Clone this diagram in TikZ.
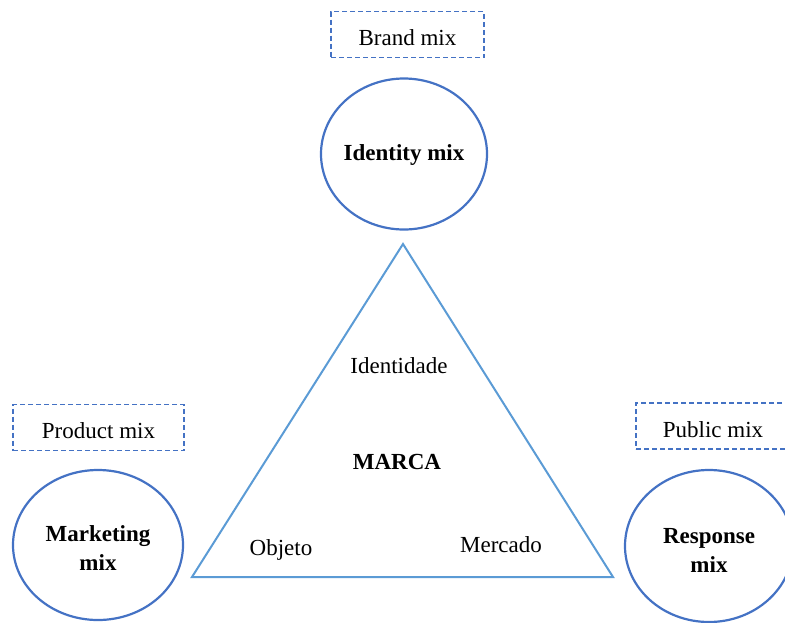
\documentclass[tikz,border=0pt]{standalone}
\usepackage{fontspec}
\setmainfont{Liberation Serif}
\usetikzlibrary{shapes.geometric}
\definecolor{ringblue}{HTML}{4472C4}
\definecolor{triblue}{HTML}{5B9BD5}
\tikzset{
  mixring/.style={ellipse, draw=ringblue, line width=2.2pt, inner sep=0pt},
  ringtext/.style={inner sep=0pt, align=center,
    font=\fontsize{23}{29}\selectfont\bfseries},
  tagbox/.style={draw=ringblue, line width=1.8pt, dash pattern=on 5pt off 3pt,
    minimum height=46pt, inner sep=0pt, text height=22pt, text depth=0pt,
    font=\fontsize{23}{29}\selectfont},
  cornerlabel/.style={inner sep=0pt, anchor=base, font=\fontsize{23}{29}\selectfont},
}
\begin{document}
\begin{tikzpicture}[x=1pt,y=-1pt]
\useasboundingbox (0,0) rectangle (785,622);
\clip (0,0) rectangle (785,622);

% three outer rings
\node[mixring, minimum width=166pt, minimum height=151pt] (identity) at (404,154) {};
\node[mixring, minimum width=170pt, minimum height=150pt] (marketing) at (98,545) {};
\node[mixring, minimum width=168pt, minimum height=152pt] (response) at (709,546) {};

\node[ringtext] (identitytext) at ([yshift=-1pt]identity.center) {Identity mix};
\node[ringtext] (marketingtext) at ([yshift=-3.5pt]marketing.center) {Marketing\\mix};
\node[ringtext] (responsetext) at ([yshift=-4.5pt]response.center) {Response\\mix};

% dashed tags above the rings
\node[tagbox, minimum width=153pt] (brand) at (407.5,34.5) {Brand mix};
\node[tagbox, minimum width=171pt] (product) at (98.5,427.5) {Product mix};
\node[tagbox, minimum width=154pt] (public) at (713,426) {Public mix};

% central brand triangle
\coordinate (apex) at (403,244);
\coordinate (bl) at (192,577);
\coordinate (br) at (613,577);
\draw[triblue, line width=2pt, line join=miter] (apex) -- (bl) -- (br) -- cycle;

\node[cornerlabel] (identidade) at (399,373) {Identidade};
\node[cornerlabel, font=\fontsize{23}{29}\selectfont\bfseries] (marca) at (397,469) {MARCA};
\node[cornerlabel] (objeto) at (281,555) {Objeto};
\node[cornerlabel] (mercado) at (501,552) {Mercado};
\end{tikzpicture}
\end{document}
